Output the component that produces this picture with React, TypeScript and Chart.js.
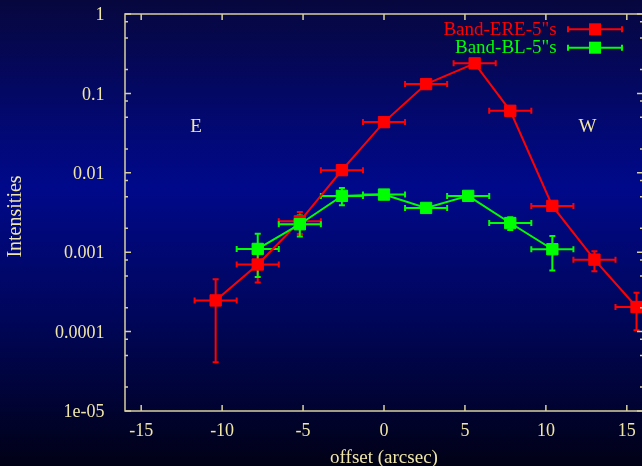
import React, { useEffect, useRef } from 'react';
import { Chart, registerables } from 'chart.js';

Chart.register(...registerables);

// ---- data ----
const xTicks = [-15, -10, -5, 0, 5, 10, 15];
const yTicks = [1e-5, 1e-4, 1e-3, 1e-2, 1e-1, 1];
const yTickLabels = ['1e-05', '0.0001', '0.001', '0.01', '0.1', '1'];
const yMinorFactors = [0.8, 0.5, 0.2];

const ereLabel = 'Band-ERE-5"s';
const ereX = [-10.4, -7.8, -5.2, -2.6, 0, 2.6, 5.6, 7.8, 10.4, 13.0, 15.6];
const ereY = [2.47e-4, 7.0e-4, 2.45e-3, 0.0108, 0.0435, 0.131, 0.239, 0.0604, 3.83e-3, 8.06e-4, 2.04e-4];
const ereLo = [4.1e-5, 4.14e-4, 1.7e-3, 0.0095, 0.040, 0.125, 0.23, 0.056, 3.5e-3, 5.74e-4, 1.04e-4];
const ereHi = [4.55e-4, 9.8e-4, 3.2e-3, 0.0122, 0.047, 0.137, 0.25, 0.064, 4.2e-3, 1.03e-3, 3.09e-4];
const ereXErr = [1.3, 1.3, 1.3, 1.3, 1.3, 1.3, 1.3, 1.3, 1.3, 1.3, 1.3];

const blLabel = 'Band-BL-5"s';
const blX = [-7.8, -5.2, -2.6, 0, 2.6, 5.2, 7.8, 10.4];
const blY = [1.1e-3, 2.25e-3, 5.12e-3, 5.32e-3, 3.61e-3, 5.12e-3, 2.33e-3, 1.09e-3];
const blLo = [4.86e-4, 1.58e-3, 3.9e-3, 4.9e-3, 3.35e-3, 4.8e-3, 1.9e-3, 5.9e-4];
const blHi = [1.71e-3, 2.9e-3, 6.45e-3, 5.7e-3, 3.9e-3, 5.45e-3, 2.75e-3, 1.6e-3];
const blXErr = [1.3, 1.3, 1.3, 1.3, 1.3, 1.3, 1.3, 1.3];

const RED = '#ff0000';
const GREEN = '#00ff00';
const TEXT = '#f0e6a8';
const FRAME = '#d8d0a0';
const SERIF = '"Liberation Serif", "Times New Roman", serif';

type Series = { x: number[]; y: number[]; lo: number[]; hi: number[]; xe: number[]; color: string; label: string };
const seriesList: Series[] = [
  { x: ereX, y: ereY, lo: ereLo, hi: ereHi, xe: ereXErr, color: RED, label: ereLabel },
  { x: blX, y: blY, lo: blLo, hi: blHi, xe: blXErr, color: GREEN, label: blLabel },
];

const overlay = {
  id: 'overlay',
  beforeDatasetsDraw(chart: any) {
    const { ctx } = chart;
    const xs = chart.scales.x;
    const ys = chart.scales.y;
    for (const s of seriesList) {
      ctx.save();
      ctx.strokeStyle = s.color;
      ctx.lineWidth = 2;
      ctx.beginPath();
      for (let i = 0; i < s.x.length; i++) {
        const px = xs.getPixelForValue(s.x[i]);
        const py = ys.getPixelForValue(s.y[i]);
        const x0 = xs.getPixelForValue(s.x[i] - s.xe[i]);
        const x1 = xs.getPixelForValue(s.x[i] + s.xe[i]);
        const y0 = ys.getPixelForValue(s.lo[i]);
        const y1 = ys.getPixelForValue(s.hi[i]);
        ctx.moveTo(x0, py); ctx.lineTo(x1, py);
        ctx.moveTo(x0, py - 3); ctx.lineTo(x0, py + 3);
        ctx.moveTo(x1, py - 3); ctx.lineTo(x1, py + 3);
        ctx.moveTo(px, y0); ctx.lineTo(px, y1);
        ctx.moveTo(px - 3, y0); ctx.lineTo(px + 3, y0);
        ctx.moveTo(px - 3, y1); ctx.lineTo(px + 3, y1);
      }
      ctx.stroke();
      ctx.restore();
    }
  },
  afterDraw(chart: any) {
    const { ctx, chartArea: a } = chart;
    const xs = chart.scales.x;
    const ys = chart.scales.y;
    ctx.save();
    // frame
    ctx.strokeStyle = FRAME;
    ctx.lineWidth = 1.5;
    ctx.strokeRect(a.left, a.top, a.right - a.left, a.bottom - a.top);
    // x ticks
    ctx.beginPath();
    for (const v of xTicks) {
      const px = xs.getPixelForValue(v);
      ctx.moveTo(px, a.bottom); ctx.lineTo(px, a.bottom - 6);
      ctx.moveTo(px, a.top); ctx.lineTo(px, a.top + 6);
    }
    // y ticks
    for (let k = 0; k < yTicks.length; k++) {
      const v = yTicks[k];
      const py = ys.getPixelForValue(v);
      ctx.moveTo(a.left, py); ctx.lineTo(a.left + 6, py);
      ctx.moveTo(a.right, py); ctx.lineTo(a.right - 6, py);
      if (k > 0) {
        for (const f of yMinorFactors) {
          const pm = ys.getPixelForValue(v * f);
          ctx.moveTo(a.left, pm); ctx.lineTo(a.left + 3, pm);
          ctx.moveTo(a.right, pm); ctx.lineTo(a.right - 3, pm);
        }
      }
    }
    ctx.stroke();

    // texts
    ctx.fillStyle = TEXT;
    ctx.font = `19px ${SERIF}`;
    ctx.textBaseline = 'alphabetic';
    ctx.textAlign = 'center';
    ctx.fillText('E', 196, 131.5);
    ctx.fillText('W', 587.5, 131.5);
    ctx.fillText('offset (arcsec)', 384, 462.5);
    ctx.save();
    ctx.translate(20.5, 216.5);
    ctx.rotate(-Math.PI / 2);
    ctx.font = `20px ${SERIF}`;
    ctx.fillText('Intensities', 0, 0);
    ctx.restore();

    // legend
    const rows = [29.3, 47.7];
    seriesList.forEach((s, i) => {
      const cy = rows[i];
      ctx.fillStyle = s.color;
      ctx.textAlign = 'right';
      ctx.fillText(s.label, 556.7, cy + 5.7);
      ctx.strokeStyle = s.color;
      ctx.lineWidth = 2;
      ctx.beginPath();
      ctx.moveTo(568, cy); ctx.lineTo(622, cy);
      ctx.moveTo(568, cy - 3); ctx.lineTo(568, cy + 3);
      ctx.moveTo(622, cy - 3); ctx.lineTo(622, cy + 3);
      ctx.stroke();
      ctx.fillRect(595 - 6, cy - 6, 12, 12);
    });
    ctx.restore();
  },
};

export default function App() {
  const ref = useRef<HTMLCanvasElement | null>(null);
  useEffect(() => {
    if (!ref.current) return;
    const chart = new Chart(ref.current, {
      type: 'scatter',
      data: {
        datasets: [
          {
            label: ereLabel,
            data: ereX.map((x, i) => ({ x, y: ereY[i] })),
            showLine: true,
            borderColor: RED,
            borderWidth: 2,
            backgroundColor: RED,
            pointStyle: 'rect',
            pointRadius: 8,
            pointBackgroundColor: RED,
            pointBorderColor: RED,
            pointBorderWidth: 1,
            order: 2,
          },
          {
            label: blLabel,
            data: blX.map((x, i) => ({ x, y: blY[i] })),
            showLine: true,
            borderColor: GREEN,
            borderWidth: 2,
            backgroundColor: GREEN,
            pointStyle: 'rect',
            pointRadius: 8,
            pointBackgroundColor: GREEN,
            pointBorderColor: GREEN,
            pointBorderWidth: 1,
            order: 1,
          },
        ],
      },
      options: {
        animation: false,
        responsive: false,
        layout: { padding: { top: 14, right: 17, bottom: 0, left: 0 } },
        plugins: { legend: { display: false }, title: { display: false }, tooltip: { enabled: false } },
        scales: {
          x: {
            type: 'linear',
            min: -16,
            max: 16,
            afterBuildTicks: (s: any) => { s.ticks = xTicks.map((v) => ({ value: v })); },
            afterFit: (s: any) => { s.height = 55; s.paddingLeft = 0; s.paddingRight = 0; },
            grid: { display: false },
            border: { display: false },
            ticks: {
              color: TEXT,
              font: { family: SERIF, size: 18 },
              padding: 1,
              autoSkip: false,
              maxRotation: 0,
              callback: (v: any) => String(v),
            },
          },
          y: {
            type: 'logarithmic',
            min: 1e-5,
            max: 1,
            afterBuildTicks: (s: any) => { s.ticks = yTicks.map((v) => ({ value: v })); },
            afterFit: (s: any) => { s.width = 125; s.paddingTop = 0; s.paddingBottom = 0; },
            grid: { display: false },
            border: { display: false },
            ticks: {
              color: TEXT,
              font: { family: SERIF, size: 18 },
              padding: 12.5,
              labelOffset: 1.5,
              autoSkip: false,
              callback: (_v: any, i: number) => yTickLabels[i],
            },
          },
        },
      },
      plugins: [overlay],
    });
    return () => chart.destroy();
  }, []);

  return (
    <div
      style={{
        position: 'fixed',
        left: 0,
        top: 0,
        width: 642,
        height: 466,
        overflow: 'hidden',
        background: 'linear-gradient(to bottom, #07073e 0%, #00098a 40%, #00065a 68%, #010116 100%)',
      }}
    >
      <canvas ref={ref} width={660} height={466} style={{ width: 660, height: 466, display: 'block' }} />
    </div>
  );
}
